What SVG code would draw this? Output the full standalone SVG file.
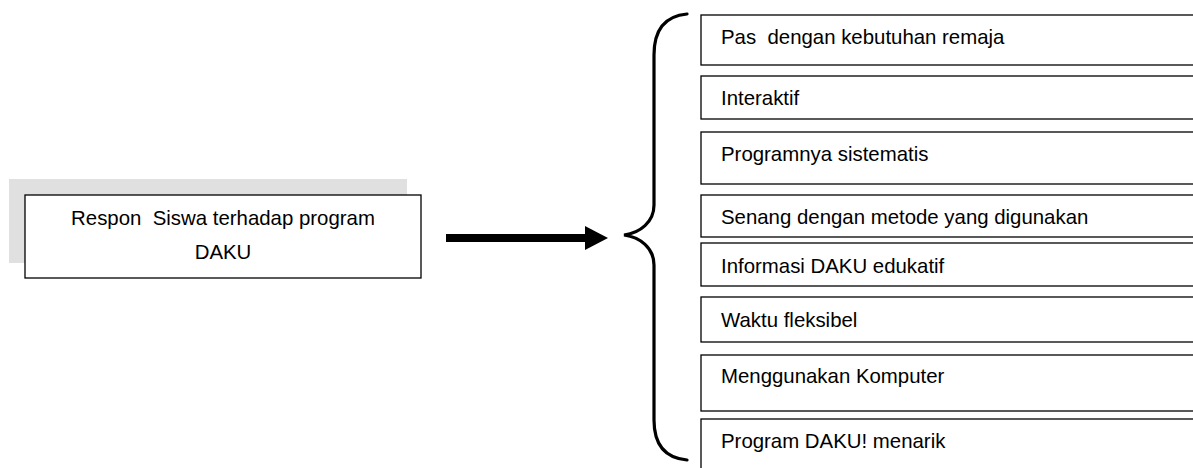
<svg xmlns="http://www.w3.org/2000/svg" width="1193" height="468" viewBox="0 0 1193 468">
<style>
.box{fill:#fff;stroke:#000;stroke-width:1.3}
.t{font-family:"Liberation Sans",Arial,sans-serif;font-size:20.4px;fill:#000;white-space:pre}
.brace{fill:none;stroke:#000;stroke-width:3.2;stroke-linecap:round}
</style>
<rect width="1193" height="468" fill="#fff"/>
<g id="source">
<rect x="9" y="179" width="398" height="84" fill="#e0e0e0"/>
<rect class="box" x="25" y="195" width="396" height="83"/>
<text class="t" x="223" y="225" text-anchor="middle" xml:space="preserve">Respon  Siswa terhadap program</text>
<text class="t" x="223" y="259" text-anchor="middle">DAKU</text>
</g>
<g id="connectors">
<polygon points="446,234 585,234 585,226 608,238 585,250 585,242 446,242" fill="#000"/>
<path class="brace" d="M687,14 C665,16 654,30 654,55 L654,205 C654,222 640,233 624,235 C640,237 654,248 654,265 L654,420 C654,445 665,458 687,460"/>
</g>
<g id="n1"><rect class="box" x="701" y="15" width="520" height="50"/><text class="t" x="721" y="44" xml:space="preserve">Pas  dengan kebutuhan remaja</text></g>
<g id="n2"><rect class="box" x="701" y="76" width="520" height="43"/><text class="t" x="721" y="105">Interaktif</text></g>
<g id="n3"><rect class="box" x="701" y="132" width="520" height="52"/><text class="t" x="721" y="161">Programnya sistematis</text></g>
<g id="n4"><rect class="box" x="701" y="195" width="520" height="42"/><text class="t" x="721" y="224">Senang dengan metode yang digunakan</text></g>
<g id="n5"><rect class="box" x="701" y="243" width="520" height="43"/><text class="t" x="721" y="273">Informasi DAKU edukatif</text></g>
<g id="n6"><rect class="box" x="701" y="297" width="520" height="45"/><text class="t" x="721" y="327">Waktu fleksibel</text></g>
<g id="n7"><rect class="box" x="701" y="355" width="520" height="56"/><text class="t" x="721" y="383">Menggunakan Komputer</text></g>
<g id="n8"><rect class="box" x="701" y="419" width="520" height="60"/><text class="t" x="721" y="448">Program DAKU! menarik</text></g>
</svg>
